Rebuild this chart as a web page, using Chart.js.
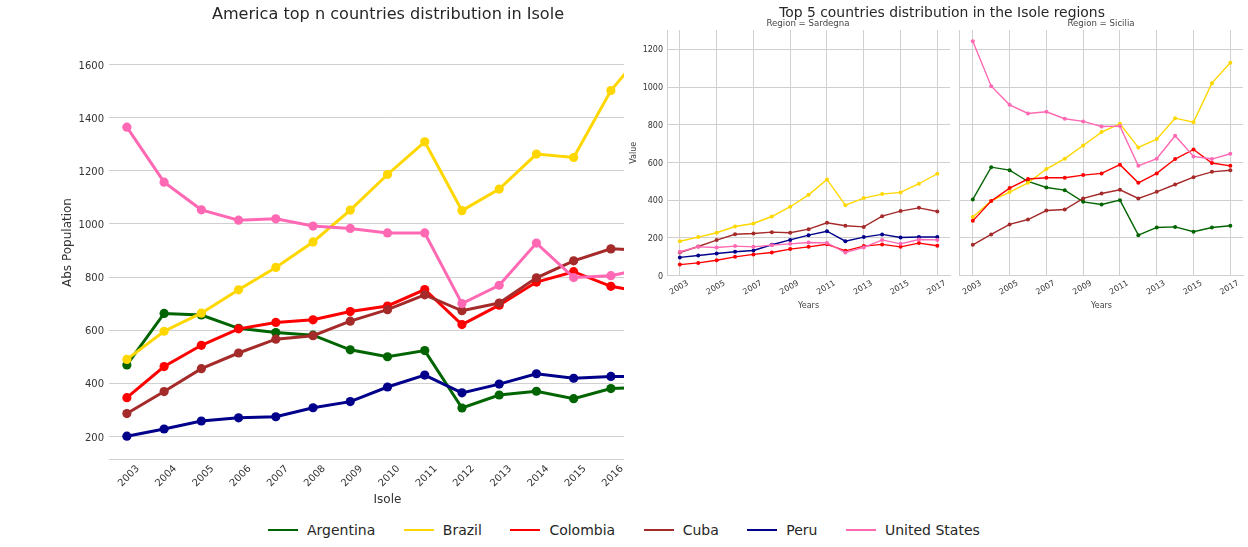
<!DOCTYPE html>
<html>
<head>
<meta charset="utf-8">
<script src="https://cdn.jsdelivr.net/npm/chart.js@4/dist/chart.umd.min.js"></script>
<style>
  html, body { margin: 0; padding: 0; background: #fff; }
  body { width: 1248px; height: 547px; position: relative; overflow: hidden; font-family: "DejaVu Sans", sans-serif; color: #262626; }
  .box { position: absolute; }
  .cover { background: #fff; }
  .label { position: absolute; white-space: nowrap; transform: translateX(-50%); line-height: 1; }
  #legend { position: absolute; top: 522px; left: 268px; display: flex; font-size: 14px; line-height: 16px; }
  #legend span.item { display: flex; align-items: center; margin-right: 28.5px; }
  #legend span.line { display: inline-block; width: 30px; height: 2px; margin-right: 9px; }
</style>
</head>
<body>
<div class="box" style="left:0;top:0;width:775px;height:510px"><canvas id="mainChart"></canvas></div>
<div class="box cover" style="left:624px;top:0;width:624px;height:510px"></div>
<div class="box" style="left:624px;top:0;width:331px;height:320px"><canvas id="sardegnaChart"></canvas></div>
<div class="box" style="left:952px;top:0;width:296px;height:320px"><canvas id="siciliaChart"></canvas></div>

<div class="label" style="left:388px;top:6px;font-size:16.1px">America top n countries distribution in Isole</div>
<div class="label" style="left:942px;top:6px;font-size:13.9px">Top 5 countries distribution in the Isole regions</div>
<div class="label" style="left:808px;top:19px;font-size:8.6px;color:#444">Region = Sardegna</div>
<div class="label" style="left:1101px;top:19px;font-size:8.6px;color:#444">Region = Sicilia</div>
<div id="legend"></div>

<script>
const years = [2003, 2004, 2005, 2006, 2007, 2008, 2009, 2010, 2011, 2012, 2013, 2014, 2015, 2016, 2017];
const oddYears = [2003, 2005, 2007, 2009, 2011, 2013, 2015, 2017];
const mainTicks = [200, 400, 600, 800, 1000, 1200, 1400, 1600];
const regionTicks = [0, 200, 400, 600, 800, 1000, 1200];

const countryNames = ["Argentina", "Brazil", "Colombia", "Cuba", "Peru", "United States"];
const countryColors = ["#006400", "#FFD700", "#FF0000", "#A52A2A", "#00008B", "#FF69B4"];

// totals for the whole Isole area
const argentinaTotal = [469, 663, 657, 607, 591, 581, 526, 500, 523, 307, 356, 370, 342, 380, 385];
const brazilTotal = [490, 596, 664, 752, 836, 932, 1052, 1186, 1309, 1050, 1131, 1263, 1250, 1502, 1670];
const colombiaTotal = [346, 463, 543, 605, 629, 639, 670, 691, 753, 621, 694, 781, 820, 765, 740];
const cubaTotal = [286, 369, 455, 514, 566, 579, 634, 677, 733, 673, 702, 797, 861, 906, 900];
const peruTotal = [201, 228, 258, 270, 274, 308, 331, 386, 431, 364, 397, 436, 419, 426, 426];
const usaTotal = [1364, 1157, 1053, 1014, 1019, 992, 983, 966, 966, 700, 769, 928, 798, 805, 835];

// Sardegna
const brazilSardegna = [182, 204, 227, 260, 276, 313, 365, 428, 510, 373, 411, 432, 441, 487, 540];
const colombiaSardegna = [58, 67, 81, 99, 112, 122, 140, 152, 166, 131, 156, 165, 152, 172, 158];
const cubaSardegna = [122, 154, 188, 219, 223, 230, 227, 246, 280, 264, 258, 315, 342, 359, 340];
const peruSardegna = [96, 106, 117, 126, 133, 163, 189, 214, 235, 182, 204, 218, 202, 204, 204];
const usaSardegna = [126, 152, 149, 156, 152, 161, 168, 175, 173, 122, 149, 189, 168, 191, 189];

// Sicilia
const argentinaSicilia = [404, 575, 559, 499, 467, 453, 391, 377, 400, 214, 255, 258, 232, 255, 264];
const brazilSicilia = [311, 396, 443, 492, 565, 620, 690, 761, 805, 680, 724, 835, 814, 1021, 1129];
const colombiaSicilia = [290, 395, 464, 512, 519, 519, 533, 542, 588, 492, 542, 618, 669, 597, 582];
const cubaSicilia = [163, 218, 271, 297, 345, 350, 409, 435, 455, 409, 444, 483, 522, 550, 559];
const usaSicilia = [1243, 1005, 906, 860, 869, 832, 818, 791, 793, 582, 620, 742, 632, 618, 646];

const GRID = "#d0d0d0";
const TEXT = "#333333";

function makeDatasets(series, lineWidth, pointRadius) {
  // last country sits on top, like in the original
  return series.map((item, index) => {
    const color = countryColors[countryNames.indexOf(item.name)];

    return {
      label: item.name,
      data: years.map((year, i) => ({ x: year, y: item.values[i] })),
      borderColor: color,
      backgroundColor: color,
      borderWidth: lineWidth,
      pointRadius: pointRadius,
      pointBorderWidth: 0,
      tension: 0,
      order: series.length - index,
    };
  });
}

function fixedTicks(values) {
  return (axis) => {
    axis.ticks = values.map((value) => ({ value: value }));
  };
}

new Chart(document.getElementById("mainChart"), {
  type: "line",
  data: {
    datasets: makeDatasets(
      [
        { name: "Argentina", values: argentinaTotal },
        { name: "Brazil", values: brazilTotal },
        { name: "Colombia", values: colombiaTotal },
        { name: "Cuba", values: cubaTotal },
        { name: "Peru", values: peruTotal },
        { name: "United States", values: usaTotal },
      ],
      3,
      4.6,
    ),
  },
  options: {
    responsive: true,
    maintainAspectRatio: false,
    animation: false,
    layout: { autoPadding: false, padding: { top: 26, right: 109 } },
    plugins: { legend: { display: false }, tooltip: { enabled: false } },
    scales: {
      x: {
        type: "linear",
        min: 2002.52,
        max: 2017.48,
        afterBuildTicks: fixedTicks(years),
        afterFit: (axis) => { axis.height = 51; },
        grid: { display: false },
        border: { color: GRID, width: 1 },
        ticks: {
          autoSkip: false,
          minRotation: 45,
          maxRotation: 45,
          padding: -4,
          labelOffset: 11,
          color: TEXT,
          font: { family: "DejaVu Sans", size: 10 },
          callback: (value) => String(value),
        },
        title: {
          display: true,
          text: "Isole",
          color: TEXT,
          font: { family: "DejaVu Sans", size: 12 },
          padding: { top: 0, bottom: 3 },
        },
      },
      y: {
        min: 115,
        max: 1745,
        afterBuildTicks: fixedTicks(mainTicks),
        afterFit: (axis) => { axis.width = 109; },
        grid: { color: GRID, drawTicks: false },
        border: { display: false },
        ticks: {
          padding: 5,
          labelOffset: 1.5,
          color: TEXT,
          font: { family: "DejaVu Sans", size: 10 },
          callback: (value) => String(value),
        },
        title: {
          display: true,
          text: "Abs Population",
          color: TEXT,
          font: { family: "DejaVu Sans", size: 12 },
          padding: { top: 61, bottom: 0 },
        },
      },
    },
  },
});

function regionChart(id, series, showValueAxis, axisWidth, rightPadding) {
  new Chart(document.getElementById(id), {
    type: "line",
    data: { datasets: makeDatasets(series, 1.4, 2) },
    options: {
      responsive: true,
      maintainAspectRatio: false,
      animation: false,
      layout: { autoPadding: false, padding: { top: 30, right: rightPadding } },
      plugins: { legend: { display: false }, tooltip: { enabled: false } },
      scales: {
        x: {
          type: "linear",
          min: 2002.3,
          max: 2017.69,
          afterBuildTicks: fixedTicks(oddYears),
          afterFit: (axis) => { axis.height = 44.5; },
          grid: { color: GRID, drawTicks: false },
          border: { color: GRID, width: 1 },
          ticks: {
            autoSkip: false,
            minRotation: 30,
            maxRotation: 30,
            padding: 3,
            labelOffset: 8,
            color: TEXT,
            font: { family: "DejaVu Sans", size: 8 },
            callback: (value) => String(value),
          },
          title: {
            display: true,
            text: "Years",
            color: "#444444",
            font: { family: "DejaVu Sans", size: 8 },
            padding: { top: 0, bottom: 9 },
          },
        },
        y: {
          min: 0,
          max: 1303,
          afterBuildTicks: fixedTicks(regionTicks),
          afterFit: (axis) => { axis.width = axisWidth; },
          grid: { color: GRID, drawTicks: false },
          border: { color: GRID, width: 1 },
          ticks: {
            display: showValueAxis,
            padding: 4,
            labelOffset: 1,
            color: TEXT,
            font: { family: "DejaVu Sans", size: 8 },
            callback: (value) => String(value),
          },
          title: {
            display: showValueAxis,
            text: "Value",
            color: "#444444",
            font: { family: "DejaVu Sans", size: 8 },
            padding: { top: 5, bottom: 0 },
          },
        },
      },
    },
  });
}

regionChart(
  "sardegnaChart",
  [
    { name: "Brazil", values: brazilSardegna },
    { name: "Colombia", values: colombiaSardegna },
    { name: "Cuba", values: cubaSardegna },
    { name: "Peru", values: peruSardegna },
    { name: "United States", values: usaSardegna },
  ],
  true,
  43,
  5,
);

regionChart(
  "siciliaChart",
  [
    { name: "Argentina", values: argentinaSicilia },
    { name: "Brazil", values: brazilSicilia },
    { name: "Colombia", values: colombiaSicilia },
    { name: "Cuba", values: cubaSicilia },
    { name: "United States", values: usaSicilia },
  ],
  false,
  4,
  5,
);

const legend = document.getElementById("legend");

countryNames.forEach((name, index) => {
  const item = document.createElement("span");
  item.className = "item";

  const line = document.createElement("span");
  line.className = "line";
  line.style.background = countryColors[index];

  item.appendChild(line);
  item.appendChild(document.createTextNode(name));
  legend.appendChild(item);
});
</script>
</body>
</html>
